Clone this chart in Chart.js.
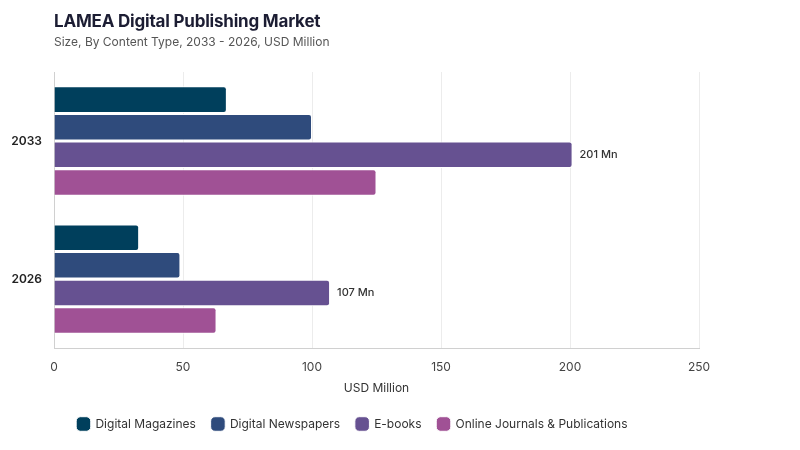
<!DOCTYPE html>
<html>
<head>
<meta charset="utf-8">
<script src="https://cdn.jsdelivr.net/npm/chart.js@4"></script>
<style>
    body { margin: 0; background: #fff; font-family: Inter, "Noto Sans", sans-serif; }
    #wrap { position: relative; width: 800px; height: 450px; }
    #title { position: absolute; left: 54px; top: 11px; font-size: 17px; font-weight: 700; color: #1c1d33; letter-spacing: -0.2px; }
    #subtitle { position: absolute; left: 54px; top: 34px; font-size: 12px; color: #555; }
</style>
</head>
<body>
<div id="wrap">
    <div id="title">LAMEA Digital Publishing Market</div>
    <div id="subtitle">Size, By Content Type, 2033 - 2026, USD Million</div>
    <canvas id="chart" width="800" height="450"></canvas>
</div>
<script>
const years = ["2033", "2026"];
const digitalMagazines = [67, 33];
const digitalNewspapers = [100, 49];
const eBooks = [201, 107];
const onlineJournals = [125, 63];
const xTicks = [0, 50, 100, 150, 200, 250];

// draws "NNN Mn" at the end of the E-books bars
const endLabels = {
    id: "endLabels",
    afterDatasetsDraw(chart) {
        const ctx = chart.ctx;
        chart.data.datasets.forEach((ds, i) => {
            if (!ds.showLabel) return;
            chart.getDatasetMeta(i).data.forEach((bar, j) => {
                ctx.save();
                ctx.font = "500 11px Inter, sans-serif";
                ctx.fillStyle = "#333";
                ctx.textBaseline = "middle";
                ctx.fillText(ds.data[j] + " Mn", bar.x + 7, bar.y);
                ctx.restore();
            });
        });
    }
};

const barStyle = { borderRadius: 3, borderSkipped: "start", borderWidth: 1, borderColor: "#ffffff", barPercentage: 0.96, categoryPercentage: 0.8 };

new Chart(document.getElementById("chart"), {
    type: "bar",
    data: {
        labels: years,
        datasets: [
            { label: "Digital Magazines", data: digitalMagazines, backgroundColor: "#003f5c", ...barStyle },
            { label: "Digital Newspapers", data: digitalNewspapers, backgroundColor: "#2f4b7c", ...barStyle },
            { label: "E-books", data: eBooks, backgroundColor: "#665191", showLabel: true, ...barStyle },
            { label: "Online Journals & Publications", data: onlineJournals, backgroundColor: "#a05195", ...barStyle }
        ]
    },
    options: {
        indexAxis: "y",
        responsive: false,
        animation: false,
        layout: { padding: { top: 72, left: 6, right: 101, bottom: 10 } },
        plugins: {
            legend: {
                position: "bottom",
                labels: {
                    usePointStyle: true,
                    pointStyle: "rectRounded",
                    boxWidth: 12,
                    boxHeight: 12,
                    padding: 16,
                    color: "#333",
                    font: { family: "Inter, sans-serif", size: 12 }
                }
            },
            tooltip: { enabled: false }
        },
        scales: {
            x: {
                min: 0,
                max: 250,
                afterBuildTicks: axis => { axis.ticks = xTicks.map(v => ({ value: v })); },
                grid: { color: "#ececec", drawTicks: false },
                border: { color: "#d0d0d0" },
                ticks: { color: "#444", padding: 12, font: { family: "Inter, sans-serif", size: 12 } },
                title: { display: true, text: "USD Million", color: "#333", padding: { top: -5, bottom: 6 }, font: { family: "Inter, sans-serif", size: 12 } }
            },
            y: {
                afterFit: axis => { axis.width = 48; },
                grid: { display: false, drawTicks: false },
                border: { color: "#d0d0d0" },
                ticks: { color: "#222", padding: 12, font: { family: "Inter, sans-serif", size: 12, weight: "600" } }
            }
        }
    },
    plugins: [endLabels]
});
</script>
</body>
</html>
